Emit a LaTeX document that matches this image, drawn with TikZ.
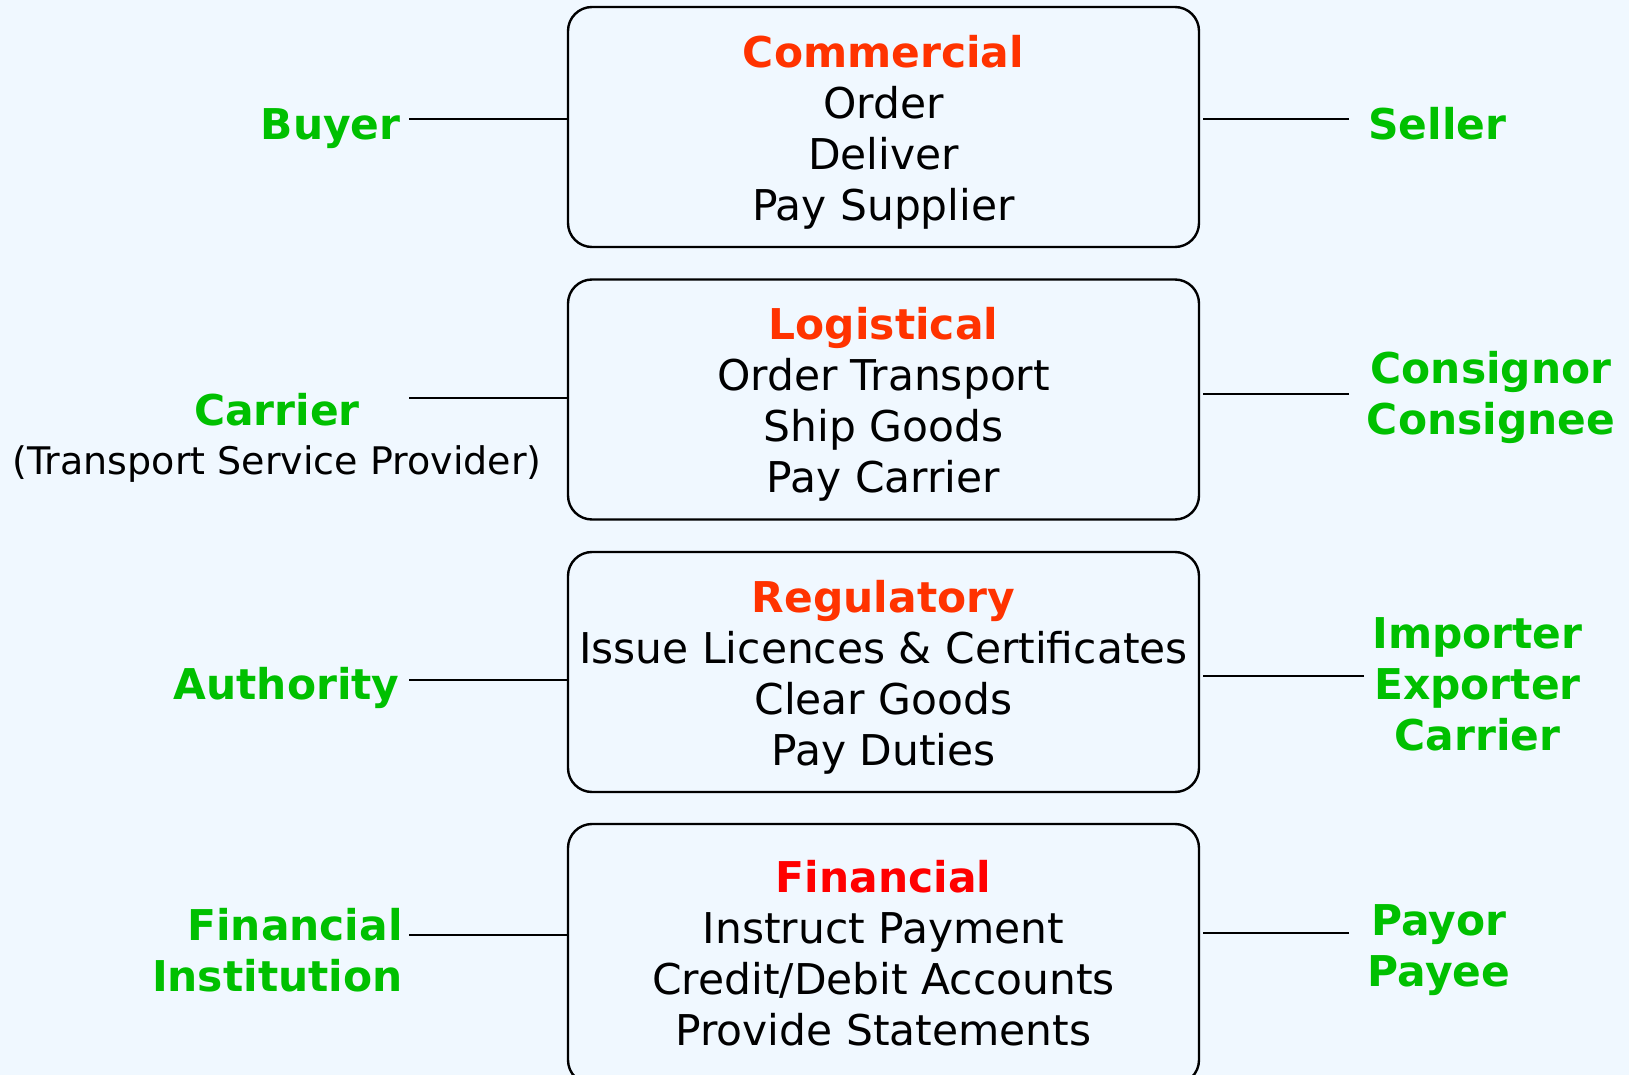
\documentclass[tikz,border=0pt]{standalone}
\usepackage{fontspec}
\setmainfont{DejaVu Sans}
\definecolor{bg}{HTML}{F0F8FF}
\definecolor{grn}{HTML}{00C000}
\definecolor{org}{HTML}{FF3300}
\definecolor{rd}{HTML}{FF0000}
\begin{document}
\begin{tikzpicture}[x=0.5pt,y=-0.5pt,
  box/.style={draw=black, rounded corners=12pt, line width=1.2pt,
    minimum width=315.5pt, minimum height=120pt, inner sep=0pt},
  boxtext/.style={inner sep=0pt, align=center,
    font=\fontsize{21.2}{25.5}\selectfont},
  role/.style={text=grn, font=\bfseries\fontsize{21.2}{25.5}\selectfont, inner sep=0pt, align=center},
  conn/.style={draw=black, line width=1pt}]
\fill[bg] (0,0) rectangle (1629,1075);
\useasboundingbox (0,0) rectangle (1629,1075);
\begin{scope}
\clip (0,0) rectangle (1629,1075);
% boxes
\node[box] (b1) at (883.5,127) {};
\node[box] (b2) at (883.5,399.5) {};
\node[box] (b3) at (883.5,672) {};
\node[box, minimum height=130pt] (b4) at (883.5,954) {};
\end{scope}
\node[boxtext] (t1) at (883.5,132) {{\bfseries\color{org}Commercial}\\Order\\Deliver\\Pay Supplier};
\node[boxtext] (t2) at (883.5,404.5) {{\bfseries\color{org}Logistical}\\Order Transport\\Ship Goods\\Pay Carrier};
\node[boxtext] (t3) at (883.5,677) {{\bfseries\color{org}Regulatory}\\Issue Licences \& Certificates\\Clear Goods\\Pay Duties};
\node[boxtext] (t4) at (883.5,953) {{\bfseries\color{rd}Financial}\\Instruct Payment\\Credit/Debit Accounts\\Provide Statements};
% left roles
\node[role, anchor=east] (buyer) at (401,129) {Buyer};
\node[role, align=center] (carrier) at (277,438) {Carrier\\[-1pt]{\mdseries\color{black}\fontsize{19}{22}\selectfont (Transport Service Provider)}};
\node[role, anchor=east] (auth) at (400,688) {Authority};
\node[role, anchor=east, align=right] (fin) at (403,950.5) {Financial\\Institution};
% right roles
\node[role, anchor=west] (seller) at (1368,123.5) {Seller};
\node[role] (cons) at (1491,397.5) {Consignor\\Consignee};
\node[role] (imp) at (1477.5,684.5) {Importer\\Exporter\\Carrier};
\node[role] (pay) at (1439,950.5) {Payor\\Payee};
% connector ends
\coordinate (l1) at (409,119.5);
\coordinate (l2) at (409,398);
\coordinate (l3) at (409,679.5);
\coordinate (l4) at (409,935);
\coordinate (r1) at (1349,119.5);
\coordinate (r2) at (1349,394);
\coordinate (r3) at (1364,676);
\coordinate (r4) at (1349,933);
\draw[conn] (l1) -- (l1 -| b1.west);
\draw[conn] (l2) -- (l2 -| b2.west);
\draw[conn] (l3) -- (l3 -| b3.west);
\draw[conn] (l4) -- (l4 -| b4.west);
\draw[conn] (r1) -- ([xshift=1.5pt]r1 -| b1.east);
\draw[conn] (r2) -- ([xshift=1.5pt]r2 -| b2.east);
\draw[conn] (r3) -- ([xshift=1.5pt]r3 -| b3.east);
\draw[conn] (r4) -- ([xshift=1.5pt]r4 -| b4.east);
\end{tikzpicture}
\end{document}
